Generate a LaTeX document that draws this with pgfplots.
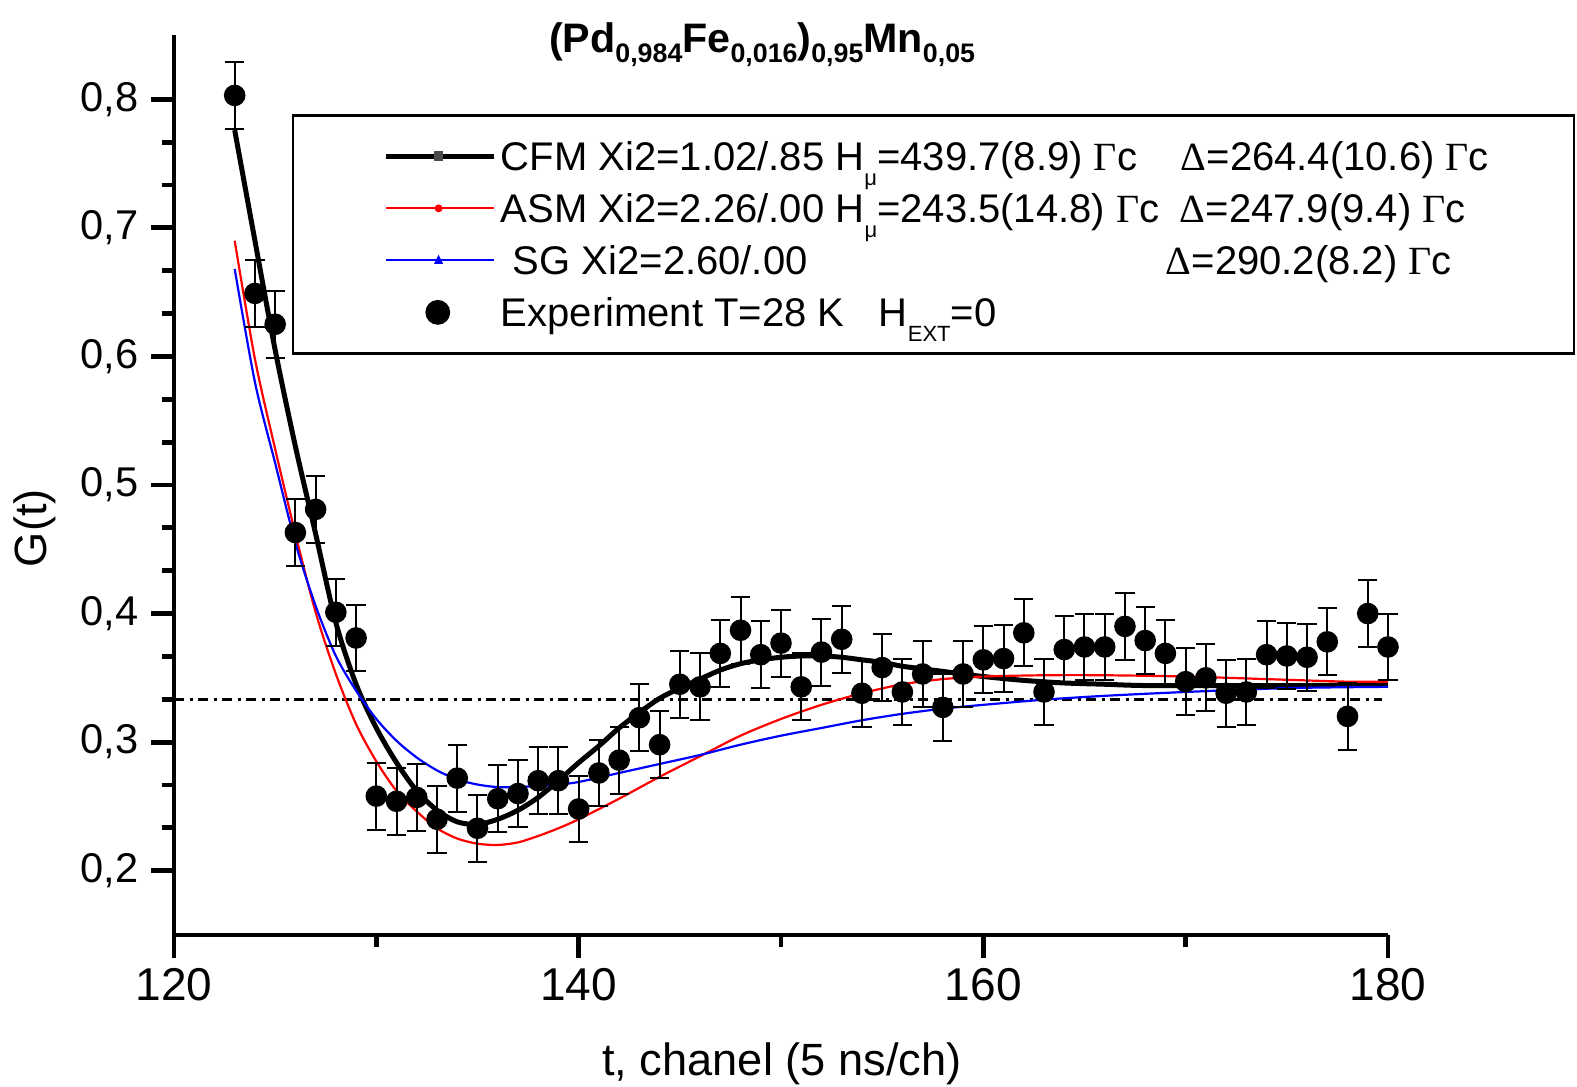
\documentclass[border=0pt]{standalone}
\usepackage{fontspec}
\setmainfont{Liberation Sans}
\newfontfamily\serifgr{Liberation Serif}
\usepackage{pgfplots}
\pgfplotsset{compat=1.18}
\usepackage{pgfplotstable}

\pgfplotstableread{
t y e
123 0.803 0.026
124 0.649 0.026
125 0.625 0.026
126 0.463 0.026
127 0.481 0.026
128 0.401 0.026
129 0.381 0.026
130 0.258 0.026
131 0.254 0.026
132 0.257 0.026
133 0.240 0.026
134 0.272 0.026
135 0.233 0.026
136 0.256 0.026
137 0.260 0.026
138 0.270 0.026
139 0.270 0.026
140 0.248 0.026
141 0.276 0.026
142 0.286 0.026
143 0.319 0.026
144 0.298 0.026
145 0.345 0.026
146 0.343 0.026
147 0.369 0.026
148 0.387 0.026
149 0.368 0.026
150 0.377 0.026
151 0.343 0.026
152 0.370 0.026
153 0.380 0.026
154 0.338 0.026
155 0.358 0.026
156 0.339 0.026
157 0.353 0.026
158 0.327 0.026
159 0.353 0.026
160 0.364 0.026
161 0.365 0.026
162 0.385 0.026
163 0.339 0.026
164 0.372 0.026
165 0.374 0.026
166 0.374 0.026
167 0.390 0.026
168 0.379 0.026
169 0.369 0.026
170 0.347 0.026
171 0.350 0.026
172 0.338 0.026
173 0.339 0.026
174 0.368 0.026
175 0.367 0.026
176 0.366 0.026
177 0.378 0.026
178 0.320 0.026
179 0.400 0.026
180 0.374 0.026
}\expdata

\pgfplotstableread{
t y
123 0.776
124 0.690
125 0.605
126 0.530
127 0.462
128 0.393
129 0.345
130 0.311
131 0.284
132 0.262
133 0.247
134 0.238
135 0.236
136 0.240
137 0.247
138 0.257
139 0.270
140 0.284
141 0.297
142 0.311
143 0.323
144 0.334
145 0.342
146 0.349
147 0.356
148 0.361
149 0.364
150 0.366
151 0.367
152 0.367
153 0.366
154 0.364
155 0.362
156 0.359
157 0.357
158 0.355
159 0.353
160 0.351
162 0.348
164 0.346
166 0.345
168 0.344
172 0.344
176 0.344
180 0.345
}\cfm

\pgfplotstableread{
t y
123 0.690
124 0.598
125 0.528
126 0.462
127 0.401
128 0.353
129 0.314
130 0.285
131 0.262
132 0.246
133 0.233
134 0.225
135 0.221
136 0.220
137 0.222
138 0.227
139 0.233
140 0.240
142 0.256
144 0.273
146 0.289
148 0.305
150 0.318
152 0.329
154 0.338
156 0.345
158 0.349
160 0.351
163 0.352
166 0.352
170 0.351
174 0.349
178 0.347
180 0.347
}\asm

\pgfplotstableread{
t y
123 0.668
124 0.580
125 0.517
126 0.455
127 0.406
128 0.367
129 0.340
130 0.318
131 0.301
132 0.288
133 0.278
134 0.271
135 0.267
136 0.265
137 0.265
138 0.266
139 0.267
140 0.269
142 0.276
144 0.283
146 0.290
148 0.298
150 0.305
152 0.311
154 0.317
156 0.322
158 0.326
160 0.329
163 0.333
166 0.336
170 0.339
175 0.342
180 0.343
}\sg

\newcommand{\lsub}[1]{\raisebox{-3.8pt}{\fontsize{5.5}{6}\selectfont #1}}
\newcommand{\tsub}[1]{\raisebox{-2.6pt}{\fontsize{6.7}{7}\selectfont\bfseries #1}}
\newcommand{\legtxt}[3]{\makebox[268.25pt][l]{\makebox[#1][l]{#2}#3}}
\newcommand{\Gc}{{\serifgr Γ}c}
\newcommand{\Dl}{{\serifgr Δ}}

\begin{document}
\begin{tikzpicture}
\begin{axis}[
  scale only axis, width=303.5pt, height=225pt,
  at={(0,0)}, anchor=south west,
  xmin=120, xmax=180, ymin=0.15, ymax=0.85,
  axis x line=bottom, axis y line=left,
  axis line style={-, line width=1.2pt},
  tick align=outside,
  xtick={120,140,160,180}, minor x tick num=1,
  ytick={0.2,0.3,0.4,0.5,0.6,0.7,0.8}, minor y tick num=2,
  major tick length=5.7pt, minor tick length=3pt,
  every tick/.style={black, line width=1.2pt},
  /pgf/number format/assume math mode=true,
  yticklabel style={/pgf/number format/.cd, use comma, fixed, fixed zerofill, precision=1, /tikz/.cd,
    font=\fontsize{10.4}{12}\selectfont, anchor=east, inner sep=0pt, xshift=-3pt},
  xticklabel style={/pgf/number format/.cd, fixed, precision=0, /tikz/.cd,
    font=\fontsize{11.5}{13}\selectfont, anchor=north, inner sep=0pt, yshift=-2.4pt},
  xlabel={t, chanel (5 ns/ch)},
  xlabel style={at={(axis description cs:0.5008,-0.1556)}, anchor=base, font=\fontsize{11.3}{13}\selectfont, inner sep=0pt},
  ylabel={G(t)},
  ylabel style={at={(axis description cs:-0.1145,0.452)}, anchor=center, font=\fontsize{11.3}{13}\selectfont, inner sep=0pt},
  clip=false,
  legend cell align=left,
  legend style={at={(0.0972,0.912)}, anchor=north west, draw=black, line width=0.6pt, fill=white,
    inner xsep=0pt, inner ysep=3.75pt, row sep=0pt, column sep=0pt,
    nodes={inner sep=0pt, text height=9.95pt, text depth=3.05pt, draw=none},
    font=\fontsize{10}{11}\selectfont},
]
\addplot[black, line width=0.7pt, dash pattern=on 2.6pt off 1.3pt on 0.8pt off 1.3pt, forget plot]
  coordinates {(120,0.3333) (179.7,0.3333)};

\addplot[black, line width=1.25pt, smooth, tension=0.5,
  legend image code/.code={\path[draw=none, fill=none] (-23.25pt,-6.5pt) rectangle (28.7pt,6.5pt);
    \draw[black, line width=1.25pt] (0pt,0pt) -- (27pt,0pt);
    \fill[black!70] (12.5pt,-0.6pt) rectangle (13.7pt,0.6pt);}]
  table[x=t, y=y]{\cfm};
\addlegendentry{\legtxt{170pt}{CFM Xi2=1.02/.85 H\lsub{μ}=439.7(8.9) \Gc}{\Dl=264.4(10.6) \Gc}}

\addplot[red, line width=0.55pt, smooth, tension=0.5,
  legend image code/.code={\path[draw=none, fill=none] (-23.25pt,-6.5pt) rectangle (28.7pt,6.5pt);
    \draw[red, line width=0.55pt] (0pt,0pt) -- (27pt,0pt);
    \fill[red] (13.1pt,0pt) circle (0.7pt);}]
  table[x=t, y=y]{\asm};
\addlegendentry{\legtxt{169.75pt}{ASM Xi2=2.26/.00 H\lsub{μ}=243.5(14.8) \Gc}{\Dl=247.9(9.4) \Gc}}

\addplot[blue, line width=0.55pt, smooth, tension=0.5,
  legend image code/.code={\path[draw=none, fill=none] (-23.25pt,-6.5pt) rectangle (28.7pt,6.5pt);
    \draw[blue, line width=0.55pt] (0pt,0pt) -- (27pt,0pt);
    \fill[blue] (12.4pt,-0.6pt) -- (13.8pt,-0.6pt) -- (13.1pt,0.8pt) -- cycle;}]
  table[x=t, y=y]{\sg};
\addlegendentry{\legtxt{166.25pt}{\hspace{3pt}SG Xi2=2.60/.00}{\Dl=290.2(8.2) \Gc}}

\addplot[only marks, mark=*, mark size=2.5pt, black,
  error bars/.cd, y dir=both, y explicit,
  error bar style={line width=0.5pt, black},
  error mark options={rotate=90, mark size=2.4pt, line width=0.5pt, black},
  /pgfplots/legend image code/.code={\path[draw=none, fill=none] (-23.25pt,-6.5pt) rectangle (28.7pt,6.5pt);
    \fill[black] (12.9pt,0pt) circle (2.8pt);}]
  table[x=t, y=y, y error=e]{\expdata};
\addlegendentry{\legtxt{94.5pt}{Experiment T=28 K}{H\lsub{EXT}=0}}

\node[anchor=base, font=\bfseries\fontsize{10.3}{12}\selectfont, inner sep=0pt]
  at (rel axis cs:0.4844,0.981) {(Pd\tsub{0,984}Fe\tsub{0,016})\tsub{0,95}Mn\tsub{0,05}};
\end{axis}
\pgfresetboundingbox
\path[use as bounding box] (-43.5pt,-38pt) rectangle (350.75pt,233.75pt);
\end{tikzpicture}
\end{document}
